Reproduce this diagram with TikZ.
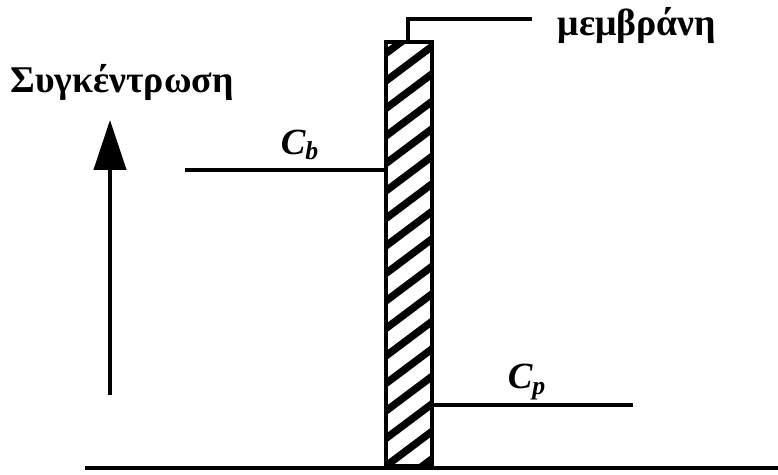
\documentclass[tikz,border=0pt]{standalone}
\usepackage{fontspec}
\setmainfont{Liberation Serif}
\usetikzlibrary{arrows.meta,positioning}

\tikzset{
  thickline/.style={line width=2.4pt},
  membrane/.style={draw, line width=2.4pt, minimum width=0.92cm, minimum height=8.48cm,
    inner sep=0pt, anchor=south,
    path picture={
      \foreach \k in {-2,...,17}
        \draw[line width=4.2pt] ([yshift=\k*0.55cm]path picture bounding box.south west)
          -- ++(1.2cm,0.9cm);
    }},
  label/.style={font=\bfseries\fontsize{21.5}{24}\selectfont, inner sep=0pt},
  conc/.style={font=\bfseries\itshape\fontsize{21}{24}\selectfont, inner sep=0pt}
}

\begin{document}
\begin{tikzpicture}
  \useasboundingbox (0,0) rectangle (15.56,9.5);
  % Membrane with its leader line
  \node[membrane] (mem) at (8.18,0.14) {};
  \coordinate (bendpt) at (8.16,9.12);
  \coordinate (leadend) at (10.64,9.12);
  \node[label] (memlabel) at (12.74,9.0) {μεμβράνη};
  \draw[line width=2pt] (mem.north -| bendpt) -- (bendpt) -- (leadend);
  % Base line
  \coordinate (basestart) at (1.7,0.14);
  \coordinate (baseend) at (15.56,0.14);
  \draw[thickline] (basestart) -- (baseend);
  % Concentration axis
  \node[label] (axislabel) at (2.44,7.86) {Συγκέντρωση};
  \coordinate (axisfoot) at (2.2,1.6);
  \coordinate (axistip) at (2.2,7.1);
  \draw[thickline, -{Triangle[length=1cm,width=0.64cm]}] (axisfoot) -- (axistip);
  % Feed side level
  \coordinate (cbstart) at (3.7,6.1);
  \draw[thickline] (cbstart) -- (mem.west |- cbstart);
  \node[conc] (cb) at (6.0,6.6) {C\textsubscript{b}};
  % Permeate side level
  \coordinate (cpend) at (12.66,1.4);
  \draw[thickline] (mem.east |- cpend) -- (cpend);
  \node[conc] (cp) at (10.54,1.86) {C\textsubscript{p}};
\end{tikzpicture}
\end{document}
